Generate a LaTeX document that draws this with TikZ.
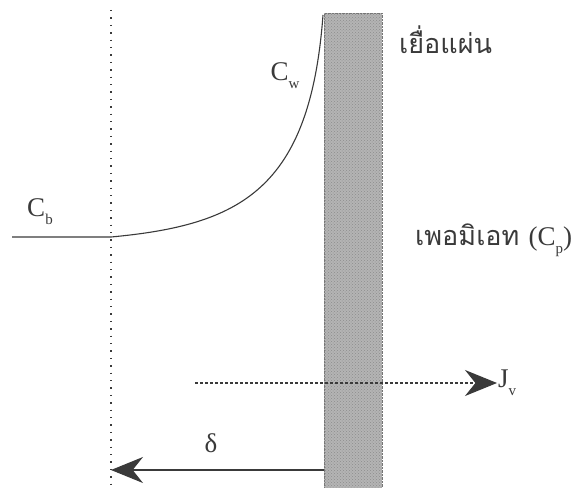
\documentclass[tikz,border=0pt]{standalone}
\usepackage{fontspec}
\setmainfont{Liberation Serif}
\newfontfamily\thaifont[Script=Thai]{Loma}
\usetikzlibrary{arrows.meta,patterns}
\definecolor{inkGray}{HTML}{3A3A3A}
\definecolor{memGray}{HTML}{B4B4B4}
\newcommand{\lowsub}[1]{\raisebox{-0.3em}{\fontsize{15}{15}\selectfont #1}}

\begin{document}
\begin{tikzpicture}[x=1pt,y=-1pt,>={Stealth[length=32pt,width=26pt]},
  lbl/.style={font=\fontsize{27}{30}\selectfont,text=inkGray,inner sep=1pt},
  thailbl/.style={font=\thaifont\fontsize{27}{30}\selectfont,text=inkGray,inner sep=1pt}]
  \useasboundingbox (0,0) rectangle (575,487);
  % membrane
  \node[draw=inkGray!70,densely dotted,fill=memGray,inner sep=0pt,minimum width=58pt,minimum height=480pt,anchor=north west,
    postaction={pattern=crosshatch dots,pattern color=black!45}] (mem) at (324,13) {};
  % boundary layer edge
  \coordinate (edgetop) at (111,10);
  \coordinate (edgebot) at (111,487);
  \draw[inkGray,line width=1.3pt,dash pattern=on 1.4pt off 6pt] (edgetop) -- (edgebot);
  % concentration profile
  \coordinate (bulk) at (12,237);
  \coordinate (bulkend) at (111,237);
  \coordinate (wall) at (323,15);
  \draw[inkGray,line width=1.1pt] (bulk) -- (bulkend) .. controls (240,225) and (310,190) .. (wall);
  \node[lbl] (cb) at (40,212) {C\lowsub{b}};
  \node[lbl] (cw) at (285,76) {C\lowsub{w}};
  \node[thailbl,anchor=west] (memlbl) at (398,40) {เยื่อแผ่น};
  \node[thailbl,anchor=west] (perm) at (414,240) {เพอมิเอท {\rmfamily(C\lowsub{p})}};
  % flux
  \coordinate (jvstart) at (195,383);
  \node[lbl,anchor=west] (jv) at (497,383) {J\lowsub{v}};
  \draw[->,inkGray,line width=1.2pt,densely dashed] (jvstart) -- (jv.west);
  % boundary layer thickness
  \coordinate (deltaend) at (111,470);
  \draw[->,inkGray,line width=1.1pt] (mem.west |- deltaend) -- (deltaend);
  \node[lbl] (delta) at (211,443) {δ};
\end{tikzpicture}
\end{document}
